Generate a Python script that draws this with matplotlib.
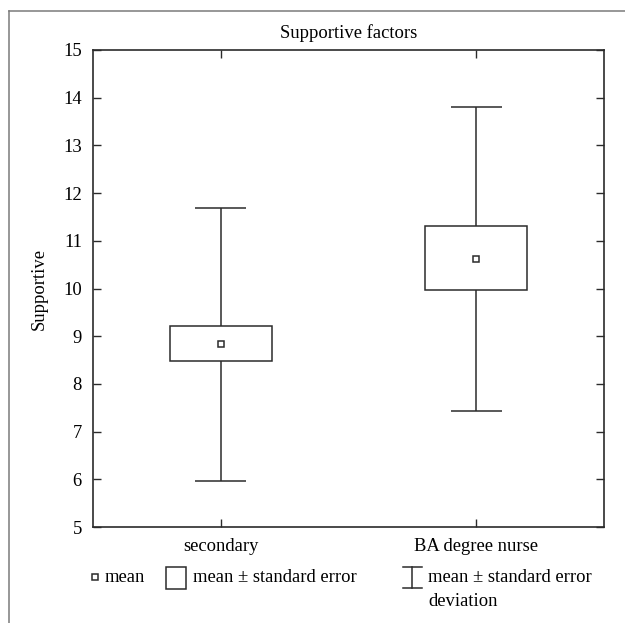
import matplotlib
matplotlib.use("Agg")
import matplotlib.pyplot as plt
from matplotlib.patches import Rectangle
from matplotlib.lines import Line2D

# ---- data ----
categories = ["secondary", "BA degree nurse"]
means = [8.84, 10.61]
se_low = [8.47, 9.96]
se_high = [9.21, 11.30]
sd_low = [5.96, 7.44]
sd_high = [11.69, 13.80]
y_ticks = [5, 6, 7, 8, 9, 10, 11, 12, 13, 14, 15]

plt.rcParams['font.family'] = ['Liberation Serif', 'DejaVu Serif']
FS = 13.4
EDGE = '#2b2b2b'

fig = plt.figure(figsize=(6.25, 6.23), dpi=100)
W, H = 625, 623
ax = fig.add_axes([93 / W, 96 / H, 511 / W, 477 / H])

positions = list(range(len(categories)))
box_w = 0.40
cap_w = 0.20
lw = 1.1

for x, m, lo, hi, wlo, whi in zip(positions, means, se_low, se_high, sd_low, sd_high):
    ax.add_patch(Rectangle((x - box_w / 2, lo), box_w, hi - lo, fill=False,
                           edgecolor=EDGE, linewidth=lw, zorder=3))
    ax.vlines(x, hi, whi, color=EDGE, linewidth=lw, zorder=2)
    ax.vlines(x, wlo, lo, color=EDGE, linewidth=lw, zorder=2)
    ax.hlines([wlo, whi], x - cap_w / 2, x + cap_w / 2, color=EDGE, linewidth=lw, zorder=2)

ax.plot(positions, means, linestyle='none', marker='s', markersize=4.5,
        markerfacecolor='white', markeredgecolor=EDGE, markeredgewidth=1.1, zorder=4)

ax.set_xlim(-0.5, 1.5)
ax.set_ylim(5, 15)
ax.set_yticks(y_ticks)
ax.set_xticks(positions)
ax.set_xticklabels(categories, fontsize=FS)
ax.tick_params(axis='y', direction='in', length=6, width=1, color=EDGE,
               labelsize=FS, pad=8, right=True, left=True)
ax.tick_params(axis='x', direction='in', length=6, width=1, color=EDGE,
               labelsize=FS, pad=8, top=True, bottom=True)
for s in ax.spines.values():
    s.set_color(EDGE)
    s.set_linewidth(1.2)
ax.set_title("Supportive factors", fontsize=FS, pad=9)
ax.set_ylabel("Supportive", fontsize=FS, labelpad=11)

# ---- outer frame lines (top and left) ----
fy = 1 - 11 / H
fx = 9 / W
fig.add_artist(Line2D([fx, 1], [fy, fy], transform=fig.transFigure, color='#7a7a7a', lw=1.1))
fig.add_artist(Line2D([fx, fx], [0, fy], transform=fig.transFigure, color='#7a7a7a', lw=1.1))

# ---- legend (manual) ----
def fxp(px):
    return px / W

def fyp(py):
    return 1 - py / H

ly = 577
fig.add_artist(Line2D([fxp(95)], [fyp(ly)], transform=fig.transFigure, marker='s',
                      markersize=4.5, markerfacecolor='white', markeredgecolor=EDGE,
                      markeredgewidth=1.1, linestyle='none'))
fig.text(fxp(105), fyp(ly), "mean", fontsize=FS, va='center', ha='left')
fig.add_artist(Rectangle((fxp(166), fyp(589)), fxp(20), 22 / H, transform=fig.transFigure,
                         fill=False, edgecolor=EDGE, linewidth=lw))
fig.text(fxp(193), fyp(ly), "mean \u00b1 standard error", fontsize=FS, va='center', ha='left')
fig.add_artist(Line2D([fxp(412), fxp(412)], [fyp(567), fyp(588)], transform=fig.transFigure,
                      color=EDGE, lw=lw))
fig.add_artist(Line2D([fxp(403), fxp(422)], [fyp(567), fyp(567)], transform=fig.transFigure,
                      color=EDGE, lw=lw))
fig.add_artist(Line2D([fxp(403), fxp(422)], [fyp(588), fyp(588)], transform=fig.transFigure,
                      color=EDGE, lw=lw))
fig.text(fxp(428), fyp(ly), "mean \u00b1 standard error", fontsize=FS, va='center', ha='left')
fig.text(fxp(428), fyp(602), "deviation", fontsize=FS, va='center', ha='left')

fig.savefig("out.png", dpi=100)
